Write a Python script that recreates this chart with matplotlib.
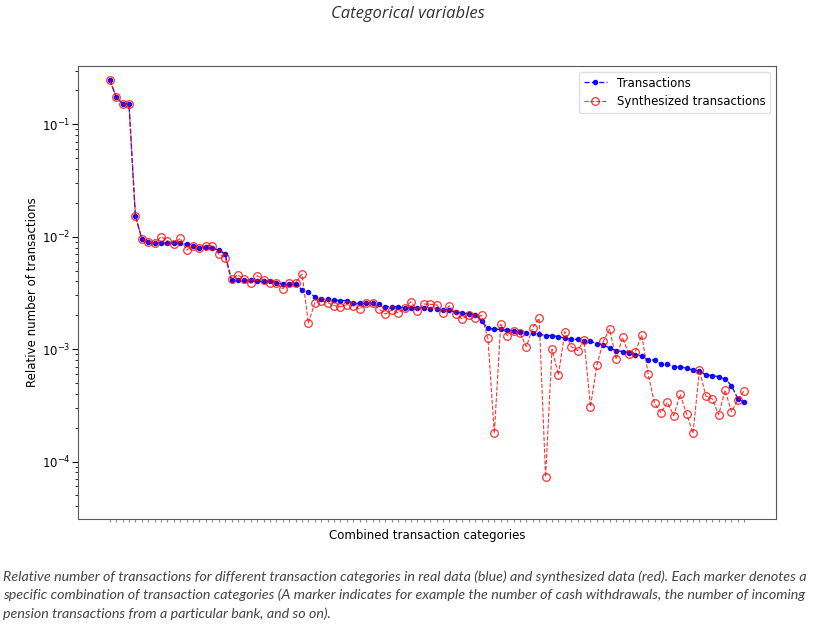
import matplotlib
matplotlib.use("Agg")
import matplotlib.pyplot as plt

# relative number of transactions per combined category
real = [0.248, 0.176, 0.152, 0.152, 0.0154, 0.00955, 0.0090, 0.0087, 0.0088, 0.0088,
        0.0087, 0.0087, 0.0086, 0.0083, 0.0080, 0.0081, 0.0079, 0.0076, 0.0070, 0.0041,
        0.0041, 0.0041, 0.0041, 0.0040, 0.0040, 0.0040, 0.0039, 0.0038, 0.0038, 0.0038,
        0.00336, 0.0032, 0.00292, 0.00279, 0.00278, 0.00273, 0.0027, 0.0027, 0.00255, 0.00255,
        0.00255, 0.00255, 0.0025, 0.00238, 0.00238, 0.00238, 0.00233, 0.00233, 0.00233, 0.00233,
        0.00227, 0.00227, 0.00225, 0.00222, 0.00212, 0.0021, 0.00205, 0.00203, 0.00178, 0.00153,
        0.0015, 0.0015, 0.00148, 0.00145, 0.00142, 0.0014, 0.0014, 0.00136, 0.00132, 0.00132,
        0.00129, 0.00125, 0.00122, 0.00122, 0.00119, 0.00117, 0.00112, 0.00109, 0.00102, 0.00097,
        0.00095, 0.00093, 0.00089, 0.00087, 0.0008, 0.0008, 0.000736, 0.00073, 0.000697, 0.000697,
        0.000674, 0.000652, 0.00064, 0.000589, 0.00058, 0.000569, 0.000543, 0.000473, 0.00036, 0.000337]

synth = [0.248, 0.176, 0.152, 0.152, 0.0154, 0.00955, 0.0090, 0.0087, 0.0100, 0.0092,
         0.0086, 0.0097, 0.0076, 0.0083, 0.0079, 0.0083, 0.0083, 0.0070, 0.0065, 0.0042,
         0.00456, 0.0042, 0.00385, 0.0045, 0.0041, 0.0039, 0.00385, 0.00345, 0.0039, 0.0039,
         0.00465, 0.0017, 0.00259, 0.0027, 0.00259, 0.00243, 0.00238, 0.00248, 0.00243, 0.00226,
         0.00259, 0.00255, 0.00228, 0.00205, 0.00222, 0.0021, 0.0023, 0.00264, 0.0022, 0.00252,
         0.0025, 0.00248, 0.0021, 0.00243, 0.00205, 0.00185, 0.00203, 0.0019, 0.002, 0.00125,
         0.000178, 0.00166, 0.00132, 0.00145, 0.00139, 0.00105, 0.00155, 0.00188, 7.3e-5, 0.000996,
         0.000589, 0.00143, 0.00105, 0.00097, 0.0012, 0.000307, 0.000722, 0.00117, 0.00151, 0.00081,
         0.00127, 0.0009, 0.00095, 0.00133, 0.0006, 0.00033, 0.000272, 0.000335, 0.000256, 0.000396,
         0.000265, 0.000178, 0.000652, 0.000383, 0.00036, 0.00026, 0.000432, 0.000277, 0.000352, 0.000427]

categories = list(range(len(real)))

title = "Categorical variables"
caption = ("Relative number of transactions for different transaction categories in real data (blue) and synthesized data (red). Each marker denotes a\n"
           "specific combination of transaction categories (A marker indicates for example the number of cash withdrawals, the number of incoming\n"
           "pension transactions from a particular bank, and so on).")

fig = plt.figure(figsize=(8.29, 6.38), dpi=100)
ax = fig.add_axes([0.0941, 0.1865, 0.8420, 0.7101])

ax.plot(categories, real, 'b.--', lw=1, ms=6, alpha=0.9, label="Transactions")
ax.plot(categories, synth, 'ro--', lw=0.8, ms=5.5, mfc='none', mew=0.9, alpha=0.8,
        label="Synthesized transactions")

ax.set_yscale('log')
ax.set_ylim(3.08e-5, 0.33)
ax.set_xticks(categories)
ax.set_xticklabels([])
ax.tick_params(axis='x', length=2.5, width=0.8, color='0.55')
ax.tick_params(axis='y', which='major', length=4, labelsize=8.5, pad=1.5)
ax.tick_params(axis='y', which='minor', length=2)
ax.set_xlabel("Combined transaction categories", fontsize=8.5, labelpad=1)
ax.set_ylabel("Relative number of transactions", fontsize=8.5, labelpad=2)
for s in ax.spines.values():
    s.set_color('0.35')
leg = ax.legend(loc='upper right', fontsize=8.5, fancybox=True, framealpha=0.8)
leg.get_frame().set_edgecolor('0.85')

fig.text(0.492, 0.978, title, ha='center', va='center', fontsize=12, style='italic',
         family='Open Sans', color='#333333')
fig.text(0.004, 0.0674, caption, ha='left', va='center', fontsize=10.3, style='italic',
         family='Lato', color='#444444', linespacing=1.55)

fig.savefig("out.png", dpi=100)
